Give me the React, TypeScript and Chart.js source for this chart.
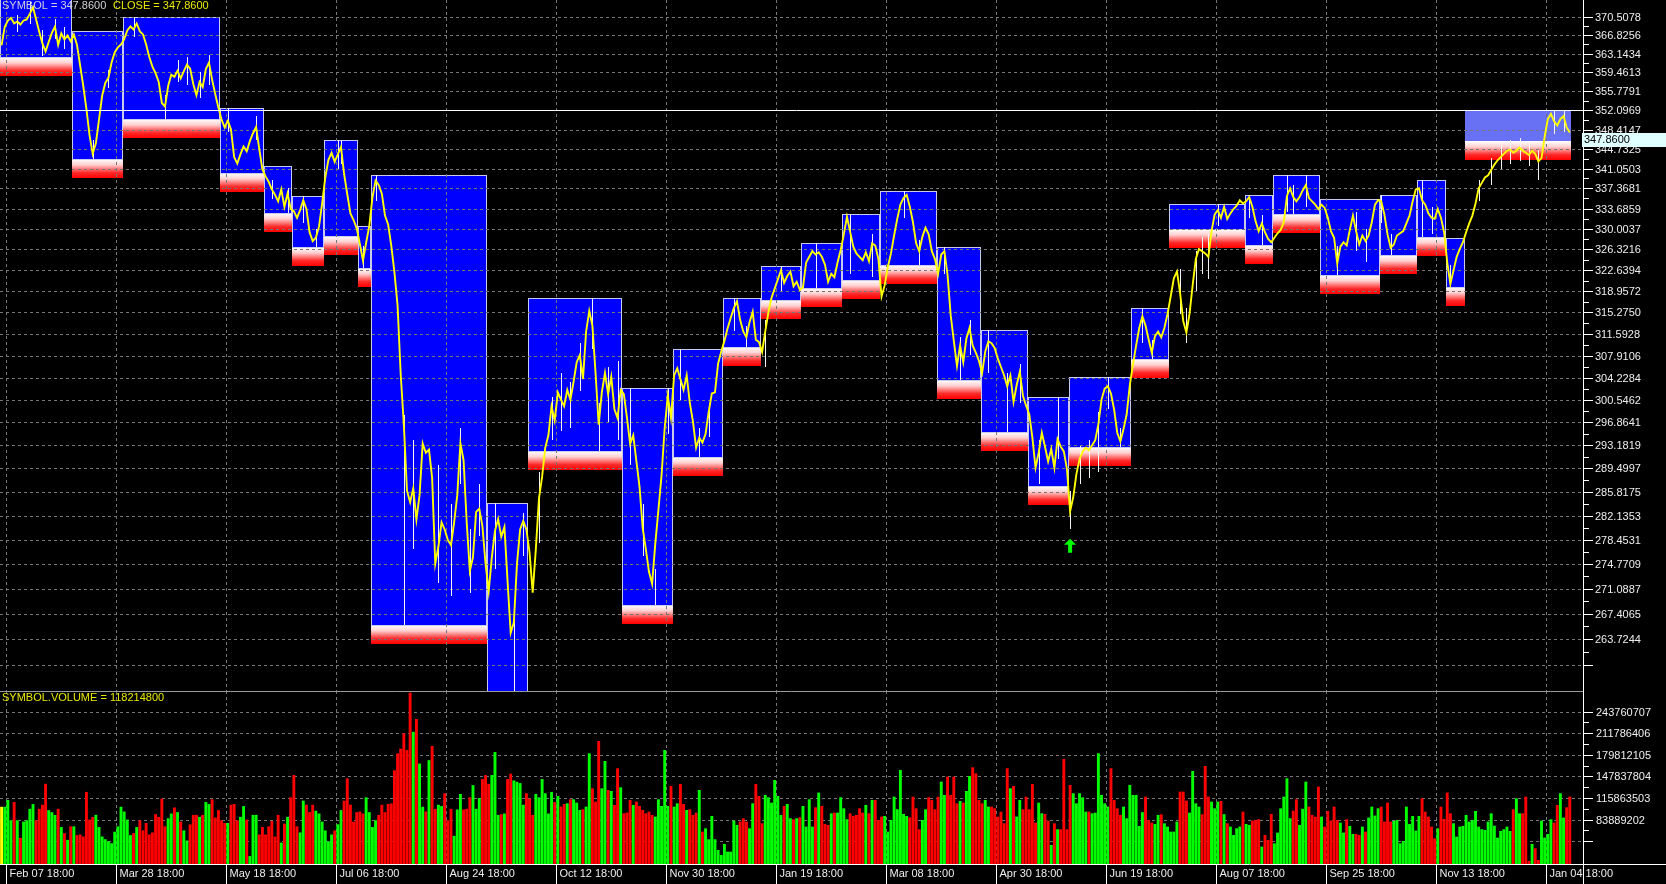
import React, { useEffect, useRef } from "react";
import { Chart, registerables } from "chart.js";

Chart.register(...registerables);

// ================= DATA =================
const DATE_LABELS = [
  "Feb 07 18:00", "Mar 28 18:00", "May 18 18:00", "Jul 06 18:00", "Aug 24 18:00",
  "Oct 12 18:00", "Nov 30 18:00", "Jan 19 18:00", "Mar 08 18:00", "Apr 30 18:00",
  "Jun 19 18:00", "Aug 07 18:00", "Sep 25 18:00", "Nov 13 18:00", "Jan 04 18:00",
];
const DATE_INDEX = [2, 37, 72, 107, 142, 177, 212, 247, 282, 317, 352, 387, 422, 457, 492];

const PRICE_TICKS = [
  370.5078, 366.8256, 363.1434, 359.4613, 355.7791, 352.0969, 348.4147, 344.7325,
  341.0503, 337.3681, 333.6859, 330.0037, 326.3216, 322.6394, 318.9572, 315.275,
  311.5928, 307.9106, 304.2284, 300.5462, 296.8641, 293.1819, 289.4997, 285.8175,
  282.1353, 278.4531, 274.7709, 271.0887, 267.4065, 263.7244,
];
const PRICE_TICK_EXTRA = 260.0422;

const VOLUME_TICKS = [243760707, 211786406, 179812105, 147837804, 115863503, 83889202];
const VOLUME_TICK_EXTRA = 51914901;

const CLOSE = [
  364.8, 368.5, 369.8, 370.3, 369.2, 369.6, 369.0, 369.8, 370.0, 371.2, 372.5, 370.0, 367.5, 365.2, 363.6, 365.5, 367.3, 368.6, 364.9, 367.2, 366.0, 366.8, 365.6,
  367.0, 364.9, 360.8, 356.8, 352.3, 347.3, 343.8, 345.8, 350.3, 354.9, 357.4, 358.4, 361.4, 363.4, 364.4, 365.0,
  366.0, 367.8, 368.6, 368.0, 369.2, 367.6, 367.0, 365.0, 362.5, 360.6, 359.3, 357.6, 353.5, 352.8, 356.8, 359.0, 358.6, 359.8, 358.3, 359.7, 361.0, 360.2, 357.2, 355.0, 357.6, 356.6, 360.1, 361.4, 358.0, 355.2, 352.6,
  350.3, 348.8, 350.1, 348.4, 343.2, 342.0, 343.7, 345.2, 344.3, 346.2, 347.7, 348.9, 344.7, 340.9,
  339.6, 338.6, 337.2, 336.2, 335.0, 337.2, 334.0, 336.4, 333.6,
  333.2, 332.0, 333.4, 335.2, 333.6, 329.4, 327.8, 328.4, 330.4, 334.6,
  339.4, 342.7, 344.0, 342.3, 343.7, 345.1, 340.0, 336.3, 332.8, 331.6, 330.1,
  327.3, 324.3, 327.5, 330.5,
  335.7, 338.8, 338.0, 336.4, 332.4, 330.8, 327.0, 322.3, 316.5, 304.8, 296.5, 286.0, 284.2, 286.4, 281.5, 285.3, 293.5, 292.0, 292.5, 288.0, 274.8, 277.4, 281.1, 280.0, 278.4, 277.6, 281.1, 285.3, 293.5, 290.8, 281.1, 273.7, 275.8, 282.7, 283.2, 280.5, 274.8,
  270.7, 275.8, 279.8, 281.6, 278.9, 280.4, 272.2, 264.6, 266.1, 274.8, 280.0, 281.3, 280.0,
  276.5, 270.5, 277.0, 284.8, 288.2, 292.8, 294.8, 299.5, 297.2, 301.8, 300.6, 299.5, 302.2, 300.6, 303.5, 306.8, 308.0, 304.0, 312.0, 315.5, 313.0, 305.0, 296.5, 301.8, 305.0, 301.5, 304.4, 299.0, 297.6, 302.2,
  301.5, 297.6, 293.4, 294.8, 290.6, 286.6, 280.2, 277.0, 273.6, 271.8, 277.8, 283.0, 288.4, 296.0, 301.2, 297.6,
  304.6, 305.8, 304.0, 302.2, 304.6, 300.0, 297.0, 292.8, 294.4, 293.6, 295.0, 298.6, 301.6, 301.8, 306.6, 308.6,
  310.4, 312.5, 314.3, 316.0, 317.2, 314.0, 312.0, 311.0, 313.6, 315.4, 310.6, 310.2,
  308.5, 312.0, 315.3, 317.8, 319.4, 321.0, 322.6, 320.4, 321.6, 322.4, 319.8, 320.6, 319.2,
  319.6, 324.0, 325.0, 326.0, 325.4, 325.8, 325.0, 323.6, 320.6, 322.0, 321.4, 324.0, 326.2,
  329.0, 332.2, 329.5, 326.8, 325.6, 325.0, 324.4, 325.8, 324.2, 327.4, 327.0, 324.6,
  318.0, 320.0, 323.2, 325.6, 328.8, 331.8, 334.4, 335.6, 336.2, 334.0, 331.2, 327.4, 326.0, 328.6, 330.2, 329.0, 326.0, 324.6,
  322.0, 325.4, 326.0, 321.8, 314.8, 310.4, 306.2, 309.6, 306.8, 310.8, 312.6, 309.6, 308.4, 307.0,
  305.0, 308.6, 310.3, 310.0, 309.2, 307.4, 306.0, 304.6, 302.8, 304.6, 300.2, 303.0, 305.2, 301.2, 299.6,
  298.2, 294.4, 289.6, 292.0, 295.2, 293.0, 290.6, 292.6, 289.6, 294.2, 293.0, 292.2, 289.4,
  282.8, 285.0, 288.6, 291.0, 292.2, 292.8, 292.4, 293.2, 294.0, 296.6, 300.6, 302.4, 302.8, 301.6, 299.0, 295.2, 293.8, 295.8, 298.2, 303.0,
  306.4, 309.6, 312.6, 314.6, 313.0, 310.6, 308.4, 311.2, 312.0, 311.0, 312.6, 315.0,
  318.0, 321.2, 322.4, 318.6, 313.8, 311.8, 315.0, 320.0, 324.6, 326.4, 326.0, 325.6, 325.0, 329.6, 332.6, 333.4, 332.0, 334.0, 331.8, 332.8, 333.6, 334.2, 335.2, 334.6,
  335.0, 335.8, 334.0, 331.4, 329.6, 331.0, 329.4, 328.2, 327.6,
  328.4, 329.2, 329.8, 331.2, 336.0, 337.4, 335.8, 335.0, 335.8, 337.0, 338.0, 335.6, 335.0, 334.4, 333.6,
  334.4, 333.8, 332.0, 329.6, 328.4, 323.8, 326.8, 327.6, 327.0, 329.8, 332.4, 329.6, 327.2, 328.8, 327.8, 328.8, 331.2, 334.4, 335.2,
  335.0, 332.6, 329.0, 326.6, 327.2, 328.8, 329.2, 329.6, 331.0, 332.4, 335.0, 337.2,
  337.4, 335.2, 334.4, 332.8, 332.0, 331.8, 333.6, 332.0, 329.4,
  324.0, 320.2, 322.6, 325.0, 326.4, 327.6,
  329.4, 331.0, 332.4, 334.6, 337.4, 338.4, 339.4, 339.8, 340.8, 341.8, 342.6, 343.2, 343.8, 344.4, 344.6, 344.0, 344.4, 345.0, 344.4, 344.0, 343.6, 344.4, 343.8, 342.4, 343.0, 347.0, 350.4, 351.4, 350.0, 349.2, 350.4, 351.0, 348.8, 347.86,
];

// visible high-low spikes: bar index, low, high
const WICK_INDEX = [
  5, 9, 13, 17, 20, 29, 34, 42, 52, 56, 59, 63, 66, 72, 81, 86, 91, 96, 100, 107, 108, 115,
  119, 128, 131, 139, 143, 146, 149, 152, 157, 163, 166, 171, 175, 178, 181, 184, 188, 190, 193, 196,
  200, 204, 208, 212, 216, 222, 225, 233, 237, 243, 248, 259, 270, 277, 287, 292, 300, 305, 308,
  314, 320, 324, 330, 336, 340, 343, 346, 349, 352, 356, 363, 366, 375, 377, 380, 382, 384, 387,
  397, 401, 409, 411, 415, 425, 431, 434, 439, 442, 452, 455, 461, 470, 474, 477, 480, 483, 486, 489, 494, 497,
];
const WICK_LOW = [
  367.5, 369.0, 362.6, 366.0, 364.0, 342.9, 356.5, 366.5, 350.5, 357.5, 357.0, 354.5, 357.0, 348.0, 346.5, 335.5, 332.9, 331.0, 326.7, 341.0, 342.0, 323.0,
  335.0, 265.8, 277.0, 272.0, 270.0, 287.0, 270.5, 279.0, 274.0, 256.0, 276.0, 278.0, 294.0, 295.5, 296.0, 302.0, 309.0, 292.3, 297.0, 294.0,
  290.0, 276.0, 268.7, 295.0, 300.5, 291.3, 294.5, 312.0, 309.4, 306.0, 319.0, 319.5, 322.0, 321.5, 332.0, 323.6, 322.0, 303.9, 308.0,
  305.0, 295.3, 300.0, 287.0, 291.0, 280.0, 287.0, 288.0, 289.0, 299.0, 292.9, 310.0, 307.4, 315.0, 310.0, 319.0, 322.0, 321.0, 330.5,
  332.0, 327.1, 333.0, 332.6, 334.0, 321.7, 326.0, 324.0, 331.0, 325.3, 328.6, 329.0, 319.6, 335.0, 338.0, 341.0, 342.0, 342.5, 341.5, 339.0, 347.5, 348.0,
];
const WICK_HIGH = [
  371.0, 373.5, 367.8, 370.2, 368.5, 346.5, 360.0, 370.5, 355.0, 362.0, 362.5, 359.5, 362.8, 352.6, 351.0, 339.0, 337.5, 335.9, 330.0, 346.5, 346.3, 327.0,
  339.8, 298.0, 294.0, 290.0, 284.0, 296.0, 280.0, 287.0, 284.1, 268.0, 282.5, 289.0, 301.0, 305.0, 303.5, 310.0, 317.8, 300.0, 306.0, 307.0,
  302.5, 284.0, 274.0, 302.5, 309.0, 296.0, 300.0, 317.8, 313.0, 314.0, 323.4, 327.5, 332.6, 329.0, 336.9, 328.0, 326.8, 311.0, 314.0,
  312.2, 305.0, 306.5, 294.0, 301.0, 286.0, 293.0, 294.0, 298.5, 304.4, 296.0, 316.0, 310.5, 322.8, 316.0, 326.0, 328.5, 329.0, 334.6,
  336.2, 332.5, 339.8, 338.0, 339.8, 327.0, 333.0, 330.0, 336.1, 329.0, 339.0, 334.0, 323.5, 339.0, 343.0, 345.5, 346.5, 346.8, 346.0, 344.5, 352.1, 352.0,
];

// volume in millions
const VOLUME_M = [
  103, 103, 113, 83, 110, 83, 57, 81, 83, 100,
  107, 83, 100, 106, 137, 98, 95, 91, 100, 73, 64, 54, 74, 74, 61, 62,
  59, 125, 84, 88, 91, 73, 59, 55, 52, 49, 66, 74, 103, 96, 84, 61, 64,
  73, 83, 68, 79, 62, 65, 92, 88, 115, 74, 86, 93, 102, 95, 81, 68, 53,
  77, 91, 91, 88, 91, 110, 107, 114, 87, 98, 83, 79, 79, 106, 107, 83,
  88, 104, 84, 30, 91, 91, 62, 73, 62, 74, 82, 59, 91, 50, 78,
  88, 117, 150, 74, 65, 112, 106, 95, 106,
  97, 93, 81, 68, 52, 62, 68, 77, 98, 112, 145, 106, 81, 95,
  96, 93, 117, 95, 73, 83, 91, 106, 95, 107, 108, 157, 182, 189, 212, 187, 272, 214, 233, 167, 103, 96,
  172, 193, 100, 106, 104, 123, 83, 100, 60, 99, 122, 99, 100, 117, 135, 100,
  116, 144, 150, 137, 150, 184, 91, 92, 93, 144, 152, 142, 140, 138, 106, 123, 115, 91, 122, 117, 144, 123, 93, 125, 110,
  119.0, 103.2, 107.1, 108.1, 114.1, 114.1, 109.1, 98.3, 99.3,
  103.2, 182.2, 130.3, 110.6, 200.4, 130.3, 170.8, 127.9, 126.4,
  105.7, 160.0, 131.8, 93.3, 94.3, 113.1, 105.7, 110.6, 104.2,
  98.3, 93.3, 95.8, 90.9, 88.4, 114.1, 104.2, 187.1, 104.2,
  133.8, 103.2, 108.1, 136.8, 107.1, 98.3, 99.3, 90.9, 94.3,
  127.9, 66.2, 71.1, 54.9, 89.4, 54.9, 39.1, 31.7, 48.0,
  36.6, 36.6, 82.5, 76.1, 81.0, 86.0, 81.0, 71.1, 108.1,
  136.8, 119.0, 78.5, 120.5, 117.0, 109.1, 142.7, 119.0, 90.9,
  104.2, 107.1, 86.0, 84.5, 86.0, 87.4, 104.2, 73.6,
  114.1, 73.6, 102.2, 124.0, 104.2, 77.5, 76.1, 93.3, 94.3, 94.3,
  117.0, 100.7, 84.5, 93.3, 89.4, 90.9, 100.7, 94.3, 105.7,
  93.3, 113.1, 113.1, 83.5, 88.4, 89.4, 66.2, 83.5, 118.0,
  99.3, 157.5, 92.4, 89.4, 87.4, 118.0, 100.7, 69.7, 83.5,
  99.3, 117.0, 113.1, 99.3, 118.0, 140.2, 120.5, 147.6, 120.5,
  147.6, 108.1, 111.6, 109.1, 126.4, 148.6, 161.4, 152.5, 113.1,
  108.1, 113.1, 103.2, 103.2, 100.7, 88.4, 95.8, 78.5,
  160.0, 130.3, 133.8, 88.4, 113.1, 99.3, 118.0, 99.3, 136.8, 79.5,
  109.1, 93.3, 92.4, 82.5, 46.5, 78.5, 69.7, 69.7, 173.8,
  69.7, 135.3, 123.0, 108.1, 123.0, 117.0, 95.8, 95.8, 93.3,
  94.3, 182.2, 120.5, 108.1, 103.2, 160.0, 113.1, 100.7, 90.9, 103.2,
  86.0, 135.3, 120.5, 120.5, 74.6, 95.0, 118.0, 83.5, 79.5, 77.5, 90.9,
  91.9, 78.5, 73.6, 66.2, 66.2, 81.0, 125.4, 125.4, 112.1, 94.3,
  156.0, 108.1, 103.2, 91.9, 163.4, 118.0, 110.6, 100.7, 110.6, 111.6, 92.0,
  78.5, 73.6, 61.3, 71.1, 73.6, 95.8, 77.5, 76.1, 82.5, 83.5,
  84.5, 44.0, 61.3, 53.9, 92.4, 48.9, 64.7, 100.7, 118.0, 145.1,
  86.0, 97.3, 114.1, 76.1, 100.0, 140.2, 103.2, 90.9, 88.4, 132.8, 88.4,
  73.6, 96.8, 82.5, 103.2, 83.5, 79.5, 64.7, 84.5, 74.6, 62.7,
  62.7, 61.3, 73.6, 66.2, 87.0, 103.2, 90.0, 100.7, 103.2, 81.0, 109.1,
  81.0, 82.0, 83.5, 48.9, 52.4, 103.2, 77.5, 89.4, 67.7, 89.4,
  115.5, 95.8, 88.4, 73.6, 56.3, 71.1, 103.2, 85.0, 124.0, 93.3, 78.5,
  58.8, 73.6, 74.6, 90.9, 81.0, 83.5, 96.8,
  73.6, 69.7, 68.7, 81.0, 93.3, 75.1, 57.3, 67.2, 69.7, 73.6,
  67.2, 99.3, 115.5, 93.3, 93.3, 118.0, 22.8, 48.0, 41.5, 24.3,
  82.5, 57.3, 62.7, 84.5, 79.5, 105.7, 123.0, 87.0, 102.2, 118.2148,
];

const BOX_START = [0, 23, 39, 70, 84, 93, 103, 114, 118, 155, 168, 198, 214, 230, 242, 255, 268, 280, 298, 312, 327, 340, 360, 372, 396, 405, 420, 439, 451, 460, 466];
const BOX_END = [22, 38, 69, 83, 92, 102, 113, 117, 154, 167, 197, 213, 229, 241, 254, 267, 279, 297, 311, 326, 339, 359, 371, 395, 404, 419, 438, 450, 459, 465, 499];
const BOX_TOP = [374.5, 367.7, 370.5, 352.6, 341.5, 335.9, 346.5, 330.5, 339.8, 284.1, 317.8, 302.5, 309.0, 317.8, 323.4, 327.5, 332.6, 336.9, 326.8, 312.2, 301.0, 304.4, 316.0, 334.6, 336.2, 339.8, 335.4, 336.1, 339.0, 328.3, 352.0969];
const BOX_BOTTOM = [362.5, 342.9, 350.5, 340.2, 332.9, 326.7, 328.8, 323.0, 265.8, 255.0, 292.3, 268.7, 291.3, 309.4, 317.4, 319.5, 320.9, 323.6, 303.9, 295.3, 286.8, 292.9, 307.4, 329.9, 327.1, 332.6, 321.7, 325.3, 328.6, 319.6, 346.2];

const ARROW_INDEX = 340;
const ARROW_PRICE = 278.6;

// ================= LAYOUT / STYLE =================
const W = 1666;
const H = 884;
const PRICE_H = 691;
const VOL_H = H - PRICE_H;
const AXIS_W = 83;
const X_MIN = -0.5;
const X_MAX = 503.2;
const P_MIN = 256.34;
const P_MAX = 373.97;
const V_MIN = 18.3;
const V_MAX = 274.4;
const FONT = "11px 'Liberation Sans', Arial, sans-serif";
const GRID = "#767676";
const AXIS_TEXT = "#eeeeee";
const BAND_H = 19;

const px = (v: number) => Math.round(v) + 0.5;

function hline(ctx: CanvasRenderingContext2D, x0: number, x1: number, y: number) {
  ctx.beginPath();
  ctx.moveTo(x0, y);
  ctx.lineTo(x1, y);
  ctx.stroke();
}
function vline(ctx: CanvasRenderingContext2D, x: number, y0: number, y1: number) {
  ctx.beginPath();
  ctx.moveTo(x, y0);
  ctx.lineTo(x, y1);
  ctx.stroke();
}

const pricePanePlugin = {
  id: "pricePane",
  beforeDraw(chart: any) {
    const { ctx, chartArea: a, scales } = chart;
    const xs = scales.x;
    const ys = scales.y;
    ctx.save();
    ctx.fillStyle = "#000000";
    ctx.fillRect(0, 0, chart.width, chart.height);
    ctx.beginPath();
    ctx.rect(a.left, a.top, a.right - a.left, a.bottom - a.top);
    ctx.clip();
    const last = BOX_START.length - 1;
    for (let k = 0; k < BOX_START.length; k++) {
      const L = Math.round(xs.getPixelForValue(BOX_START[k] - 0.5));
      const R = Math.round(xs.getPixelForValue(BOX_END[k] + 0.5));
      const T = Math.round(ys.getPixelForValue(BOX_TOP[k]));
      const B = Math.round(ys.getPixelForValue(BOX_BOTTOM[k]));
      ctx.fillStyle = k === last ? "#6871f4" : "#0000ff";
      ctx.fillRect(L, T, R - L, B - T);
      const g = ctx.createLinearGradient(0, B, 0, B + BAND_H);
      g.addColorStop(0, "#ffffff");
      g.addColorStop(0.3, "#ffd2d2");
      g.addColorStop(0.72, "#ff2a2a");
      g.addColorStop(1, "#ff0000");
      ctx.fillStyle = g;
      ctx.fillRect(L, B, R - L, BAND_H);
      if (k !== last) {
        ctx.strokeStyle = "#c9c9ee";
        ctx.lineWidth = 1;
        ctx.strokeRect(L + 0.5, T + 0.5, R - L - 1, B - T);
      }
    }
    ctx.strokeStyle = GRID;
    ctx.lineWidth = 1;
    ctx.setLineDash([3, 3]);
    [...PRICE_TICKS, PRICE_TICK_EXTRA].forEach((p) => hline(ctx, a.left, a.right, px(ys.getPixelForValue(p))));
    DATE_INDEX.forEach((i) => vline(ctx, px(xs.getPixelForValue(i - 0.5)), a.top, a.bottom));
    ctx.restore();
  },
  beforeDatasetsDraw(chart: any) {
    const { ctx, chartArea: a, scales } = chart;
    const xs = scales.x;
    const ys = scales.y;
    ctx.save();
    ctx.beginPath();
    ctx.rect(a.left, a.top, a.right - a.left, a.bottom - a.top);
    ctx.clip();
    ctx.strokeStyle = "#f4f4f4";
    ctx.lineWidth = 1;
    for (let k = 0; k < WICK_INDEX.length; k++) {
      const x = px(xs.getPixelForValue(WICK_INDEX[k]));
      vline(ctx, x, Math.round(ys.getPixelForValue(WICK_HIGH[k])), Math.round(ys.getPixelForValue(WICK_LOW[k])));
    }
    ctx.restore();
  },
  afterDatasetsDraw(chart: any) {
    const { ctx, chartArea: a, scales } = chart;
    const xs = scales.x;
    const ys = scales.y;
    ctx.save();
    ctx.setLineDash([]);
    ctx.strokeStyle = "#ffffff";
    ctx.lineWidth = 1;
    hline(ctx, 0, a.right + 10, px(ys.getPixelForValue(BOX_TOP[BOX_TOP.length - 1])));
    const ax = xs.getPixelForValue(ARROW_INDEX);
    const ay = ys.getPixelForValue(ARROW_PRICE);
    ctx.fillStyle = "#00ff00";
    ctx.beginPath();
    ctx.moveTo(ax, ay);
    ctx.lineTo(ax + 6, ay + 6);
    ctx.lineTo(ax + 2, ay + 6);
    ctx.lineTo(ax + 2, ay + 14);
    ctx.lineTo(ax - 2, ay + 14);
    ctx.lineTo(ax - 2, ay + 6);
    ctx.lineTo(ax - 6, ay + 6);
    ctx.closePath();
    ctx.fill();
    const axX = px(a.right);
    ctx.strokeStyle = "#ffffff";
    vline(ctx, axX, 0, chart.height);
    const all = [...PRICE_TICKS, PRICE_TICK_EXTRA];
    ctx.font = FONT;
    ctx.textBaseline = "middle";
    ctx.textAlign = "left";
    for (let i = 0; i < all.length; i++) {
      const y = px(ys.getPixelForValue(all[i]));
      hline(ctx, a.right, a.right + 10, y);
      if (i < all.length - 1) {
        const ym = px(ys.getPixelForValue((all[i] + all[i + 1]) / 2));
        hline(ctx, a.right, a.right + 6, ym);
      }
      if (i < PRICE_TICKS.length) {
        ctx.fillStyle = AXIS_TEXT;
        ctx.fillText(all[i].toFixed(4), a.right + 12, y);
      }
    }
    const lastClose = CLOSE[CLOSE.length - 1];
    const cy = Math.round(ys.getPixelForValue(lastClose));
    ctx.fillStyle = "#e0ffff";
    ctx.fillRect(a.right - 1, cy + 1, chart.width - a.right + 1, 14);
    ctx.fillStyle = "#000000";
    ctx.fillText(lastClose.toFixed(4), a.right + 1, cy + 8);
    ctx.fillStyle = "#d0d0d8";
    ctx.fillText("SYMBOL = " + lastClose.toFixed(4), 2, 6);
    ctx.fillStyle = "#e8e800";
    ctx.fillText("CLOSE = " + lastClose.toFixed(4), 113, 6);
    ctx.restore();
  },
};

const volumePanePlugin = {
  id: "volumePane",
  beforeDraw(chart: any) {
    const { ctx, chartArea: a, scales } = chart;
    const xs = scales.x;
    const ys = scales.y;
    ctx.save();
    ctx.fillStyle = "#000000";
    ctx.fillRect(0, 0, chart.width, chart.height);
    ctx.strokeStyle = GRID;
    ctx.lineWidth = 1;
    ctx.setLineDash([3, 3]);
    [...VOLUME_TICKS, VOLUME_TICK_EXTRA].forEach((v) => hline(ctx, a.left, a.right, px(ys.getPixelForValue(v / 1e6))));
    DATE_INDEX.forEach((i) => vline(ctx, px(xs.getPixelForValue(i - 0.5)), a.top, a.bottom));
    ctx.setLineDash([]);
    ctx.strokeStyle = "#9a9a9a";
    hline(ctx, 0, a.right, 0.5);
    ctx.restore();
  },
  afterDraw(chart: any) {
    const { ctx, chartArea: a, scales } = chart;
    const xs = scales.x;
    const ys = scales.y;
    ctx.save();
    ctx.strokeStyle = "#ffffff";
    ctx.lineWidth = 1;
    const by = px(a.bottom);
    hline(ctx, 0, chart.width, by);
    vline(ctx, px(a.right), 0, chart.height);
    ctx.font = FONT;
    ctx.textBaseline = "middle";
    ctx.textAlign = "left";
    DATE_INDEX.forEach((i, k) => {
      const x = px(xs.getPixelForValue(i - 0.5));
      vline(ctx, x, by, chart.height);
      ctx.fillStyle = AXIS_TEXT;
      ctx.fillText(DATE_LABELS[k], x + 3, a.bottom + 10);
    });
    const all = [...VOLUME_TICKS, VOLUME_TICK_EXTRA];
    for (let i = 0; i < all.length; i++) {
      const y = px(ys.getPixelForValue(all[i] / 1e6));
      hline(ctx, a.right, a.right + 10, y);
      if (i < all.length - 1) {
        const ym = px(ys.getPixelForValue((all[i] + all[i + 1]) / 2e6));
        hline(ctx, a.right, a.right + 6, ym);
      }
      if (i < VOLUME_TICKS.length) {
        ctx.fillStyle = AXIS_TEXT;
        ctx.fillText(String(all[i]), a.right + 13, y);
      }
    }
    ctx.fillStyle = "#e8e800";
    ctx.fillText("SYMBOL.VOLUME = " + Math.round(VOLUME_M[VOLUME_M.length - 1] * 1e6), 2, 7);
    ctx.restore();
  },
};

export default function App() {
  const priceRef = useRef<HTMLCanvasElement>(null);
  const volRef = useRef<HTMLCanvasElement>(null);

  useEffect(() => {
    const priceChart = new Chart(priceRef.current as HTMLCanvasElement, {
      type: "line",
      data: {
        datasets: [
          {
            data: CLOSE.map((c, i) => ({ x: i, y: c })),
            borderColor: "#ffff00",
            borderWidth: 1.9,
            pointRadius: 0,
            tension: 0,
            fill: false,
          },
        ],
      },
      options: {
        responsive: false,
        animation: false,
        devicePixelRatio: 1,
        events: [],
        layout: { padding: { left: 0, right: AXIS_W, top: 0, bottom: 0 } },
        plugins: { legend: { display: false }, tooltip: { enabled: false } },
        scales: {
          x: { type: "linear", min: X_MIN, max: X_MAX, display: false },
          y: { type: "logarithmic", min: P_MIN, max: P_MAX, display: false },
        },
      },
      plugins: [pricePanePlugin],
    } as any);

    const colors = VOLUME_M.map((_, i) =>
      i === 0 ? "#ffff00" : CLOSE[i] >= CLOSE[i - 1] ? "#00ff00" : "#ff0000"
    );
    const volChart = new Chart(volRef.current as HTMLCanvasElement, {
      type: "bar",
      data: {
        datasets: [
          {
            data: VOLUME_M.map((v, i) => ({ x: i, y: v })),
            backgroundColor: colors,
            borderWidth: 0,
            barPercentage: 0.92,
            categoryPercentage: 1,
          },
        ],
      },
      options: {
        responsive: false,
        animation: false,
        devicePixelRatio: 1,
        events: [],
        layout: { padding: { left: 0, right: AXIS_W, top: 0, bottom: 20 } },
        plugins: { legend: { display: false }, tooltip: { enabled: false } },
        scales: {
          x: { type: "linear", min: X_MIN, max: X_MAX, display: false, offset: false },
          y: { type: "linear", min: V_MIN, max: V_MAX, display: false },
        },
      },
      plugins: [volumePanePlugin],
    } as any);

    return () => {
      priceChart.destroy();
      volChart.destroy();
    };
  }, []);

  return (
    <div style={{ position: "fixed", left: 0, top: 0, width: W, height: H, background: "#000", overflow: "hidden" }}>
      <canvas
        ref={priceRef}
        width={W}
        height={PRICE_H}
        style={{ position: "absolute", left: 0, top: 0, width: W, height: PRICE_H }}
      />
      <canvas
        ref={volRef}
        width={W}
        height={VOL_H}
        style={{ position: "absolute", left: 0, top: PRICE_H, width: W, height: VOL_H }}
      />
    </div>
  );
}
